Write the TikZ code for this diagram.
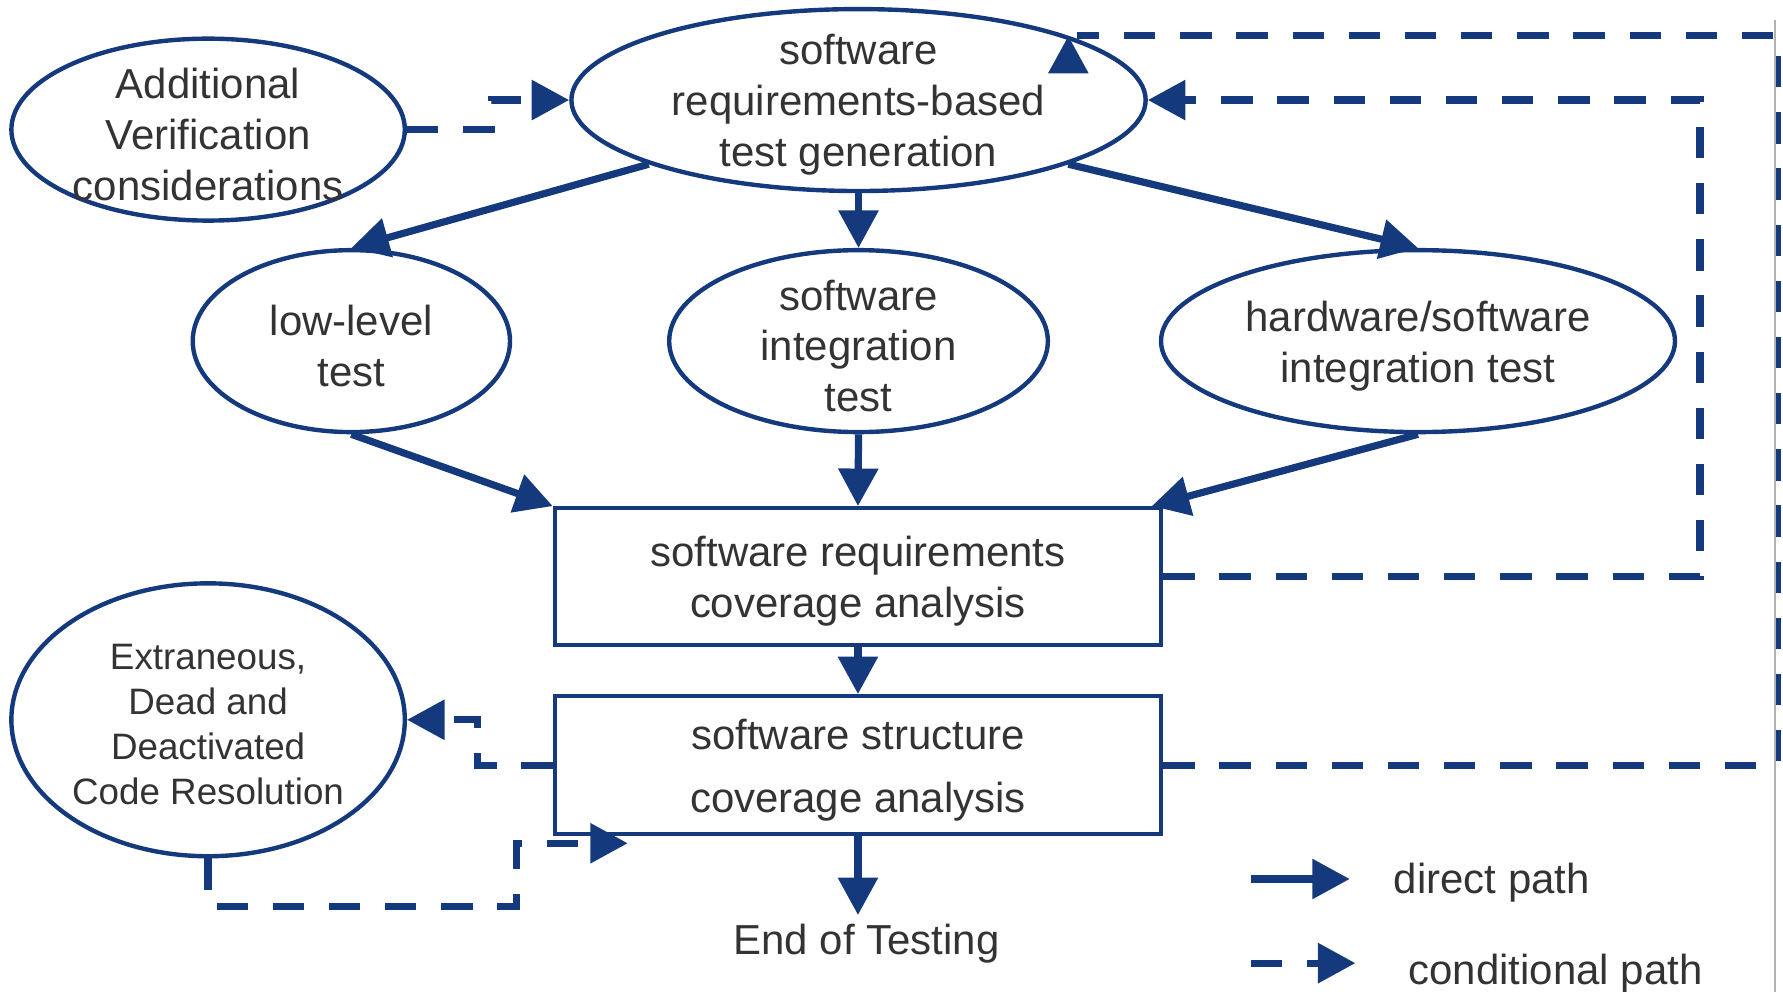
\documentclass[tikz,border=0pt]{standalone}
\usepackage{fontspec}
\setmainfont{Liberation Sans}
\usetikzlibrary{shapes.geometric}
\usetikzlibrary{arrows.meta}
\definecolor{dblue}{RGB}{20,58,125}
\definecolor{ink}{HTML}{333333}
\newcommand{\nodestrut}{\rule{0pt}{0.95em}}

\begin{document}
\begin{tikzpicture}[
  oval/.style={ellipse, draw=dblue, line width=1.1pt, inner sep=-8pt, align=center, text=ink},
  stage/.style={rectangle, draw=dblue, line width=1.1pt, minimum width=5.33cm, minimum height=1.2cm, align=center, text=ink},
  direct/.style={draw=dblue, line width=1.8pt, -{Triangle[width=3.4mm,length=3.3mm]}},
  cond/.style={direct, dash pattern=on 2.76mm off 2.18mm},
  font=\fontsize{10.5}{12.7}\selectfont]
\useasboundingbox (0,0) rectangle (15.68,8.72);
% test generation and the three test levels
\node[oval, minimum width=3.46cm, minimum height=1.6cm] (addv) at (1.83,7.58) {\nodestrut Additional\\Verification\\considerations};
\node[oval, minimum width=5.05cm, minimum height=1.6cm] (gen) at (7.55,7.84) {\nodestrut software\\requirements-based\\test generation};
\node[oval, minimum width=2.79cm, minimum height=1.6cm] (low) at (3.09,5.72) {\nodestrut low-level\\test};
\node[oval, minimum width=3.33cm, minimum height=1.6cm] (swint) at (7.55,5.72) {\nodestrut software\\integration\\test};
\node[oval, minimum width=4.52cm, minimum height=1.6cm] (hwsw) at (12.47,5.72) {\nodestrut hardware/software\\integration test};
% coverage analysis
\node[stage] (reqcov) at (7.545,3.65) {\nodestrut software requirements\\coverage analysis};
\node[stage] (strcov) at (7.545,1.99) {\nodestrut software structure\\[3pt]coverage analysis};
\node[oval, minimum width=3.46cm, minimum height=2.4cm, font=\fontsize{9.2}{11.2}\selectfont] (dead) at (1.83,2.39) {\nodestrut Extraneous,\\Dead and\\Deactivated\\Code Resolution};
\node[text=ink, inner sep=2.1pt] (endt) at (7.62,0.42) {End of Testing};
% direct paths
\draw[direct] (gen.197.8) -- (low.north);
\draw[direct] (gen.south) -- (swint.north);
\draw[direct] (gen.-17.6) -- (hwsw.north);
\draw[direct] (low.south) -- (reqcov.north west);
\draw[direct] (swint.south) -- (reqcov.north);
\draw[direct] (hwsw.south) -- ([xshift=-1mm]reqcov.north east);
\draw[direct] (reqcov.south) -- (strcov.north);
\draw[direct] (strcov.south) -- (strcov.south |- endt.north);
% conditional paths
\draw[cond] (addv.east) -- ++(0.74,0) |- (gen.west);
\draw[cond] (reqcov.east) -- ++(4.72,0) |- (gen.east);
\coordinate (corner) at (15.63,8.41);
\draw[cond, -] (strcov.east) -| (corner) -- ([xshift=0.8mm]gen.17 |- corner);
\draw[direct] ([yshift=-3.3mm]gen.17) -- (gen.17);
\draw[cond] (strcov.west) -- ++(-0.66,0) |- (dead.east);
\coordinate (strin) at ([xshift=6.6mm,yshift=-0.6mm]strcov.south west);
\draw[cond] (dead.south) -- ++(0,-0.42) -| ([xshift=-9.8mm]strin) -- (strin);
\draw[gray!60, line width=0.5pt] (15.61,8.54) -- (15.61,0);
% legend
\coordinate (dstart) at (11.00,0.99);
\coordinate (cstart) at (11.00,0.25);
\draw[direct] (dstart) -- ++(0.87,0);
\draw[cond] (cstart) -- ++(0.92,0);
\node[anchor=west, text=ink, inner sep=0] (dlabel) at (12.25,0.96) {direct path};
\node[anchor=west, text=ink, inner sep=0] (clabel) at (12.38,0.16) {conditional path};
\end{tikzpicture}
\end{document}
